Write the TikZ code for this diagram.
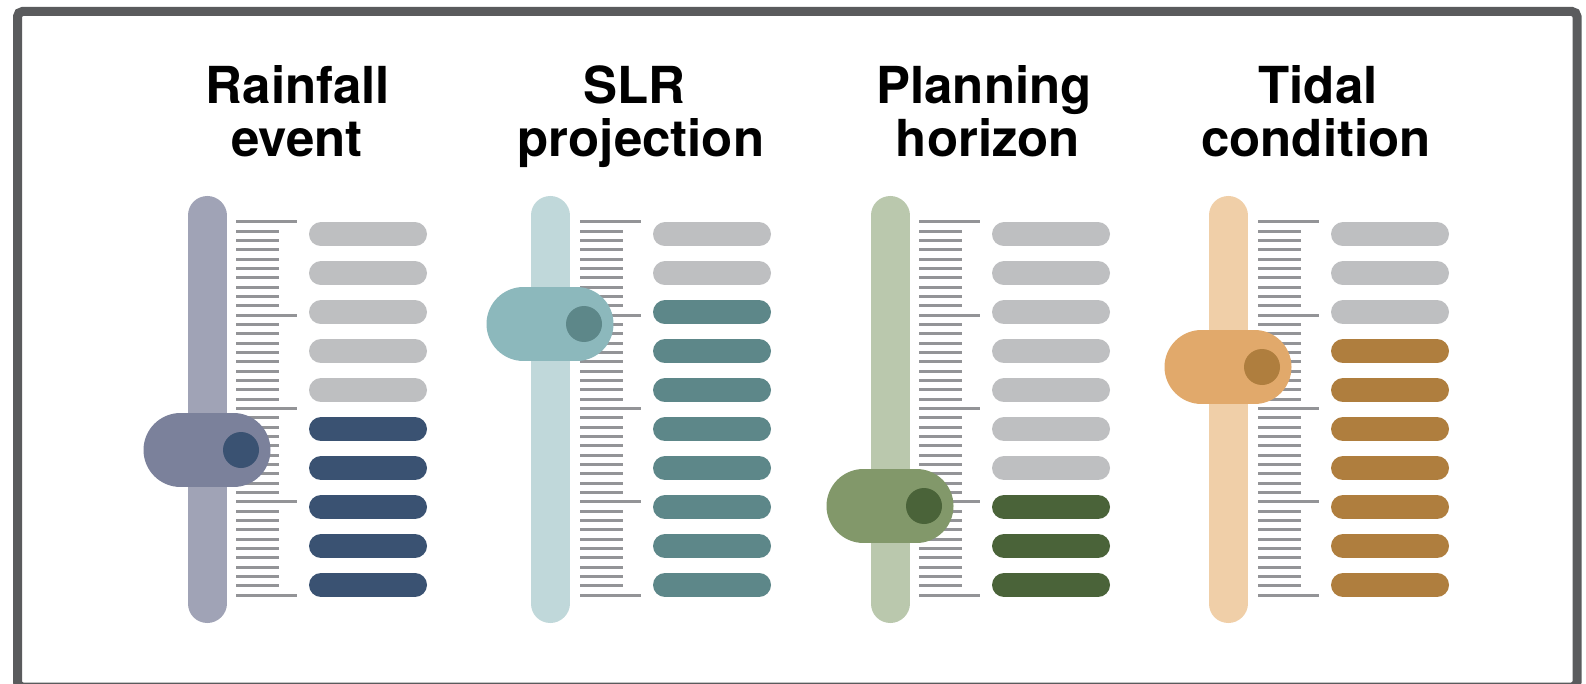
\documentclass[tikz,border=0pt]{standalone}
\usepackage{fontspec}
\setmainfont{TeX Gyre Heros}
\definecolor{frame}{HTML}{5A5B5D}
\definecolor{tick}{HTML}{939497}
\definecolor{pillgray}{HTML}{BEBFC1}
\definecolor{trA}{HTML}{A0A3B6}\definecolor{knA}{HTML}{7B819B}\definecolor{dkA}{HTML}{3A5272}
\definecolor{trB}{HTML}{C0D8DA}\definecolor{knB}{HTML}{8CB8BC}\definecolor{dkB}{HTML}{5D8789}
\definecolor{trC}{HTML}{BAC8AD}\definecolor{knC}{HTML}{82986A}\definecolor{dkC}{HTML}{4A6339}
\definecolor{trD}{HTML}{F0CFA8}\definecolor{knD}{HTML}{E1A96B}\definecolor{dkD}{HTML}{AF7E3E}
\tikzset{
  title/.style={anchor=base, inner sep=0pt, font=\fontsize{51}{55}\selectfont\bfseries},
  trackline/.style={line width=39pt, line cap=round},
  pill/.style={line width=24pt, line cap=round},
  tickline/.style={line width=3pt, tick},
  knobline/.style={line width=74pt, line cap=round},
}
\begin{document}
\begin{tikzpicture}[x=1pt,y=-1pt]
\useasboundingbox (0,0) rectangle (1586,684);
\fill[white] (0,0) rectangle (1586,684);
\draw[frame, line width=9pt, rounded corners=5pt] (17.5,11.5) rectangle (1577,687);
% titles
\node[title] (t1a) at (298,104) {Rainfall};
\node[title] (t1b) at (297,157) {event};
\node[title] (t2a) at (634,104) {SLR};
\node[title] (t2b) at (641,157) {projection};
\node[title] (t3a) at (984,104) {Planning};
\node[title] (t3b) at (988,157) {horizon};
\node[title] (t4a) at (1318,104) {Tidal};
\node[title] (t4b) at (1316,157) {condition};
% sliders: track centre, tick start, track colour, knob colour, dark colour, knob y, first dark pill
\foreach \cx/\tx/\tr/\kn/\dk/\ky/\fd in {207/236/trA/knA/dkA/450/5, 550/580/trB/knB/dkB/324/2, 890/919/trC/knC/dkC/506/7, 1228/1258/trD/knD/dkD/367/3}{
  \draw[trackline, \tr] (\cx,215.5) -- (\cx,603.5);
  \foreach \k in {0,...,40}{
    \pgfmathsetmacro{\yy}{222+\k*9.325}
    \pgfmathsetmacro{\len}{mod(\k,10)==0 ? 61 : 43}
    \draw[tickline] (\tx,\yy) -- ++(\len,0);
  }
  \foreach \i in {0,...,9}{
    \pgfmathsetmacro{\py}{234.5+\i*38.94}
    \ifnum\i<\fd\relax
      \draw[pill, pillgray] (\tx+85,\py) -- (\tx+179,\py);
    \else
      \draw[pill, \dk] (\tx+85,\py) -- (\tx+179,\py);
    \fi
  }
  \draw[knobline, \kn] (\cx-26.5,\ky) -- (\cx+26.5,\ky);
  \fill[\dk] (\cx+34,\ky) circle[radius=18pt];
}
\end{tikzpicture}
\end{document}
